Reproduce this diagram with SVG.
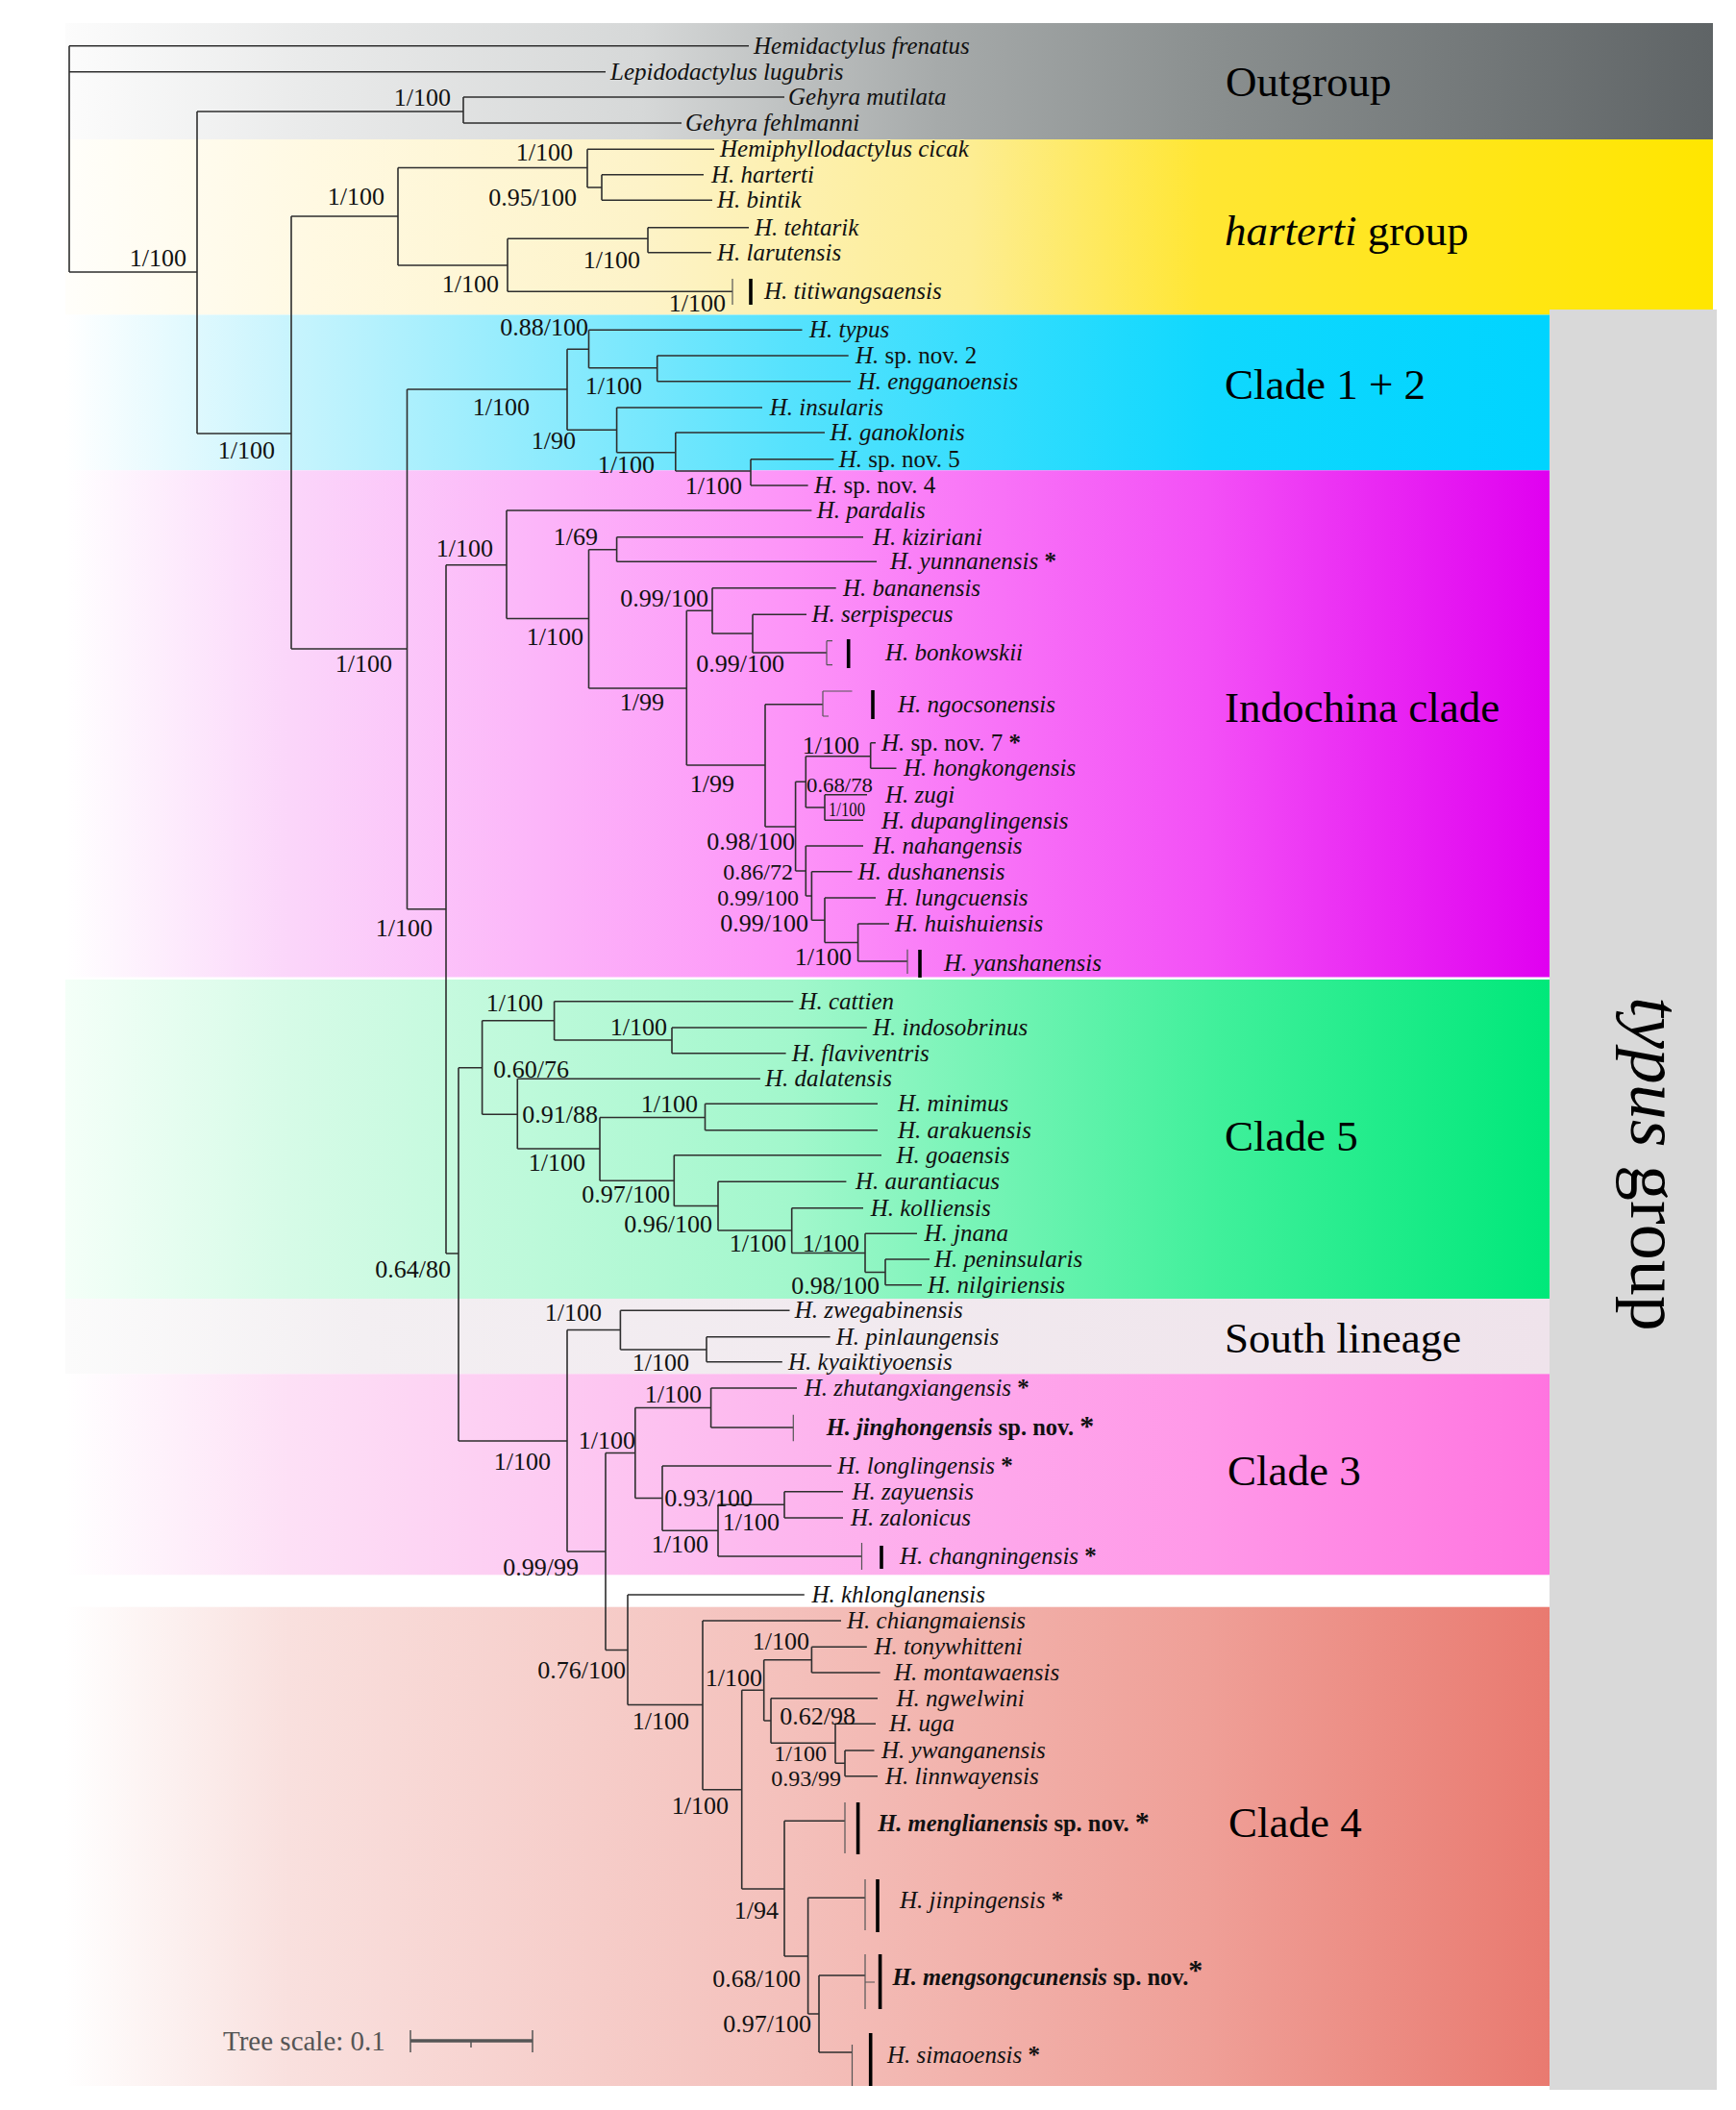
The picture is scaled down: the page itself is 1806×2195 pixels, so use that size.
<svg xmlns="http://www.w3.org/2000/svg" width="1806" height="2195" viewBox="0 0 1806 2195">
<style>
.br{fill:none;stroke:#2e2e2e;stroke-width:1.6}
.bk{fill:none;stroke:#555;stroke-width:1.2}
.bar{fill:none;stroke:#000;stroke-width:3.6}
.tip{font-family:"Liberation Serif","Times New Roman",serif;font-size:25px;font-style:italic;fill:#111}
.nov{font-family:"Liberation Serif","Times New Roman",serif;font-size:24.5px;font-style:italic;font-weight:bold;fill:#111}
.r{font-style:normal}
.sv{font-family:"Liberation Serif","Times New Roman",serif;font-size:26px;fill:#111;text-anchor:end}
.svt{font-size:24px}
.svs{font-family:"Liberation Serif","Times New Roman",serif;font-size:22px;fill:#111}
.cl{font-family:"Liberation Serif","Times New Roman",serif;font-size:45px;fill:#000}
</style>
<defs>
<linearGradient id="gOut" gradientUnits="userSpaceOnUse" x1="68" y1="0" x2="1782" y2="0">
<stop offset="0" stop-color="#fcfcfc"/><stop offset="0.15" stop-color="#e9eaea"/><stop offset="0.35" stop-color="#d6d8d8"/><stop offset="0.53" stop-color="#a6aaaa"/><stop offset="0.69" stop-color="#8b9090"/><stop offset="1" stop-color="#5f6466"/>
</linearGradient>
<linearGradient id="gHar" gradientUnits="userSpaceOnUse" x1="68" y1="0" x2="1782" y2="0">
<stop offset="0" stop-color="#fffefa"/><stop offset="0.15" stop-color="#fff9e2"/><stop offset="0.35" stop-color="#fdf3c8"/><stop offset="0.55" stop-color="#fded92"/><stop offset="0.69" stop-color="#ffe633"/><stop offset="1" stop-color="#ffe600"/>
</linearGradient>
<linearGradient id="gC12" gradientUnits="userSpaceOnUse" x1="68" y1="0" x2="1612" y2="0">
<stop offset="0" stop-color="#ffffff"/><stop offset="0.15" stop-color="#c8f4fd"/><stop offset="0.49" stop-color="#55e2fd"/><stop offset="0.77" stop-color="#10d8fe"/><stop offset="1" stop-color="#00d4ff"/>
</linearGradient>
<linearGradient id="gInd" gradientUnits="userSpaceOnUse" x1="68" y1="0" x2="1612" y2="0">
<stop offset="0" stop-color="#ffffff"/><stop offset="0.15" stop-color="#fbd6fa"/><stop offset="0.49" stop-color="#fd94f8"/><stop offset="0.77" stop-color="#f350f6"/><stop offset="1" stop-color="#e000f0"/>
</linearGradient>
<linearGradient id="gC5" gradientUnits="userSpaceOnUse" x1="68" y1="0" x2="1612" y2="0">
<stop offset="0" stop-color="#f4fff8"/><stop offset="0.15" stop-color="#d6fbe7"/><stop offset="0.49" stop-color="#a2f7cc"/><stop offset="0.77" stop-color="#42f09c"/><stop offset="1" stop-color="#00e87a"/>
</linearGradient>
<linearGradient id="gSo" gradientUnits="userSpaceOnUse" x1="68" y1="0" x2="1612" y2="0">
<stop offset="0" stop-color="#fbfbfb"/><stop offset="0.2" stop-color="#f3eff2"/><stop offset="1" stop-color="#efe3eb"/>
</linearGradient>
<linearGradient id="gC3" gradientUnits="userSpaceOnUse" x1="68" y1="0" x2="1612" y2="0">
<stop offset="0" stop-color="#ffffff"/><stop offset="0.15" stop-color="#fde0f6"/><stop offset="0.49" stop-color="#fdb6ee"/><stop offset="0.77" stop-color="#ff98e8"/><stop offset="1" stop-color="#ff74e0"/>
</linearGradient>
<linearGradient id="gC4" gradientUnits="userSpaceOnUse" x1="68" y1="0" x2="1612" y2="0">
<stop offset="0" stop-color="#ffffff"/><stop offset="0.15" stop-color="#f9e0de"/><stop offset="0.49" stop-color="#f4c0bb"/><stop offset="0.77" stop-color="#ef9f97"/><stop offset="1" stop-color="#e97a70"/>
</linearGradient>
</defs>
<rect width="1806" height="2195" fill="#ffffff"/>
<g id="bands">
<rect x="68" y="24" width="1714" height="121" fill="url(#gOut)"/>
<rect x="68" y="145" width="1714" height="182.5" fill="url(#gHar)"/>
<rect x="1612" y="322" width="174" height="1852" fill="#d9d9d9"/>
<rect x="68" y="327.5" width="1544" height="161.8" fill="url(#gC12)"/>
<rect x="68" y="489.3" width="1544" height="527.2" fill="url(#gInd)"/>
<rect x="68" y="1019" width="1544" height="332" fill="url(#gC5)"/>
<rect x="68" y="1351" width="1544" height="78.3" fill="url(#gSo)"/>
<rect x="68" y="1429.3" width="1544" height="209" fill="url(#gC3)"/>
<rect x="68" y="1671.7" width="1544" height="498.3" fill="url(#gC4)"/>
</g>
<g id="clade-labels">
<g id="lbl-outgroup"><text class="cl" x="1275" y="100">Outgroup</text></g>
<g id="lbl-harterti"><text class="cl" x="1274" y="255"><tspan font-style="italic">harterti</tspan> group</text></g>
<g id="lbl-clade12"><text class="cl" x="1274" y="415">Clade 1 + 2</text></g>
<g id="lbl-indochina"><text class="cl" x="1274" y="751">Indochina clade</text></g>
<g id="lbl-clade5"><text class="cl" x="1274" y="1197">Clade 5</text></g>
<g id="lbl-south"><text class="cl" x="1274" y="1407">South lineage</text></g>
<g id="lbl-clade3"><text class="cl" x="1277" y="1545">Clade 3</text></g>
<g id="lbl-clade4"><text class="cl" x="1278" y="1911">Clade 4</text></g>
<g id="lbl-typus"><text class="cl" style="font-size:74px" text-anchor="middle" transform="translate(1697 1211) rotate(90)"><tspan font-style="italic">typus</tspan> group</text></g>
</g>
<g id="connectors">
<path class="br" d="M72 47.7V283M72 47.7H779M72 74.7H630M72 283H205M205 116V451M205 116H482M482 101V128M482 101H816M482 128H709M205 451H303M303 225V675M303 225H414M414 174.5V276M414 174.5H611M611 155.3V195M611 155.3H743M611 195H626M626 181.7V208.3M626 181.7H732M626 208.3H741M414 276H528M528 248.3V303.3M528 248.3H674M674 236.7V262.7M674 236.7H779M674 262.7H740M528 303.3H762
M303 675H423.5M423.5 405V945.7M423.5 405H590M590 363.3V447.3M590 363.3H612.5M612.5 343.3V382.7M612.5 343.3H834.5M612.5 382.7H683.7M683.7 370V396.7M683.7 370H882.7M683.7 396.7H885M590 447.3H641.6M641.6 424V470.7M641.6 424H793M641.6 470.7H702.8M702.8 450V490M702.8 450H858M702.8 490H781M781 477.7V505M781 477.7H867.4M781 505H840.6
M423.5 945.7H464M464 587.7V1304M464 587.7H527M527 531V643.5M527 531H844.4M527 643.5H612.5M612.5 571.7V716M612.5 571.7H641.6M641.6 558.7V584.3M641.6 558.7H898M641.6 584.3H912M612.5 716H714.3M714.3 635.3V796M714.3 635.3H741M741 611.7V659M741 611.7H869.7M741 659H783M783 639.3V679M783 639.3H839M783 679H860M714.3 796H796M796 732.7V860M796 732.7H856M796 860H827.6M827.6 813.3V906M827.6 813.3H838.3M838.3 786.7V840M838.3 786.7H905.7M905.7 772.7V799.3M905.7 772.7H911M905.7 799.3H932.5M838.3 840H858M858 826.7V853.3M858 826.7H902M858 853.3H898M827.6 906H838.3M838.3 880V932M838.3 880H898M838.3 932H844.4M844.4 906.7V957.3M844.4 906.7H886.5M844.4 957.3H858M858 934V980.5M858 934H911M858 980.5H892.6M892.6 961V1000M892.6 961H925M892.6 1000H944
M464 1304H477M477 1110.7V1499M477 1110.7H501.6M501.6 1061.7V1159.3M501.6 1061.7H576.6M576.6 1041.7V1082M576.6 1041.7H825.3M576.6 1082H699M699 1069V1095.7M699 1069H901.8M699 1095.7H817.6M501.6 1159.3H538.3M538.3 1122.3V1195M538.3 1122.3H790.9M538.3 1195H624M624 1162.5V1228.3M624 1162.5H733.5M733.5 1148.3V1175.7M733.5 1148.3H913M733.5 1175.7H913M624 1228.3H701.3M701.3 1201.7V1254.5M701.3 1201.7H917M701.3 1254.5H747M747 1229.3V1280M747 1229.3H880.4M747 1280H823.7M823.7 1256.7V1303.5M823.7 1256.7H898M823.7 1303.5H900M900 1283.3V1323.5M900 1283.3H954M900 1323.5H921M921 1310V1336.7M921 1310H967M921 1336.7H959
M477 1499H590M590 1383.5V1614M590 1383.5H645.4M645.4 1363.3V1404M645.4 1363.3H821.5M645.4 1404H735M735 1390.7V1416.7M735 1390.7H863.6M735 1416.7H813.8M590 1614H630M630 1511.5V1716.5M630 1511.5H660.8M660.8 1464.5V1558.5M660.8 1464.5H739.6M739.6 1444V1485M739.6 1444H829M739.6 1485H825.3M660.8 1558.5H689M689 1525V1592.2M689 1525H865M689 1592.2H747M747 1565.3V1619M747 1565.3H816M816 1551.7V1579M816 1551.7H877M816 1579H877M747 1619H896.5
M630 1716.5H653M653 1659V1773.5M653 1659H836.8M653 1773.5H731M731 1686V1861.7M731 1686H875M731 1861.7H771.7M771.7 1758.3V1965M771.7 1758.3H794.7M794.7 1726.7V1790M794.7 1726.7H844.4M844.4 1713.3V1740M844.4 1713.3H901.8M844.4 1740H915.6M794.7 1790H802M802 1766.7V1813.3M802 1766.7H913M802 1813.3H869M869 1793.3V1834.3M869 1793.3H911M869 1834.3H879M879 1821V1847.7M879 1821H909.5M879 1847.7H913M771.7 1965H816M816 1894.3V2035M816 1894.3H879M816 2035H840.6M840.6 1974.3V2095M840.6 1974.3H900M840.6 2095H852M852 2055V2135M852 2055H900M852 2135H886.5"/>
</g>
<g id="collapsed">
<path class="bk" d="M762 290V317M860 666.7V691.7M860 666.7H866M860 691.7H866M856 719V745M856 719H886.5M856 745H862M944 987.7V1013M825.3 1471.7V1499.3M896.5 1605V1633M879 1875V1928M900 1955V2008M900 2033V2090M900 2062H910M886.5 2127V2170"/>
<path class="bar" d="M781 290V317M882.7 665V695M908 718V748M957 988V1017M917 1608V1632M892.6 1875V1929M913 1955V2010M915.6 2033V2090M905.7 2115V2170"/>
</g>
<g id="support-values">
<text class="sv" x="469" y="110">1/100</text>
<text class="sv" x="194" y="277">1/100</text>
<text class="sv" x="596" y="167">1/100</text>
<text class="sv" x="600" y="214">0.95/100</text>
<text class="sv" x="400" y="213">1/100</text>
<text class="sv" x="666" y="279">1/100</text>
<text class="sv" x="519" y="304">1/100</text>
<text class="sv" x="755" y="324">1/100</text>
<text class="sv" x="612" y="349">0.88/100</text>
<text class="sv" x="668" y="410">1/100</text>
<text class="sv" x="551" y="432">1/100</text>
<text class="sv" x="599" y="467">1/90</text>
<text class="sv" x="681" y="492">1/100</text>
<text class="sv" x="772" y="514">1/100</text>
<text class="sv" x="286" y="477">1/100</text>
<text class="sv" x="513" y="579">1/100</text>
<text class="sv" x="622" y="567">1/69</text>
<text class="sv" x="737" y="631">0.99/100</text>
<text class="sv" x="607" y="671">1/100</text>
<text class="sv" x="816" y="699">0.99/100</text>
<text class="sv" x="408" y="699">1/100</text>
<text class="sv" x="691" y="739">1/99</text>
<text class="sv" x="894" y="784">1/100</text>
<text class="sv" x="764" y="824">1/99</text>
<text class="svs" x="839" y="824" textLength="69" lengthAdjust="spacingAndGlyphs">0.68/78</text>
<text class="svs" x="862" y="849" textLength="38" lengthAdjust="spacingAndGlyphs">1/100</text>
<text class="sv" x="827" y="884">0.98/100</text>
<text class="sv svt" x="825" y="915">0.86/72</text>
<text class="sv svt" x="831" y="942">0.99/100</text>
<text class="sv" x="841" y="969">0.99/100</text>
<text class="sv" x="886" y="1004">1/100</text>
<text class="sv" x="450" y="974">1/100</text>
<text class="sv" x="565" y="1052">1/100</text>
<text class="sv" x="694" y="1077">1/100</text>
<text class="sv" x="592" y="1121">0.60/76</text>
<text class="sv" x="622" y="1168">0.91/88</text>
<text class="sv" x="726" y="1157">1/100</text>
<text class="sv" x="609" y="1218">1/100</text>
<text class="sv" x="697" y="1251">0.97/100</text>
<text class="sv" x="741" y="1282">0.96/100</text>
<text class="sv" x="818" y="1302">1/100</text>
<text class="sv" x="894" y="1302">1/100</text>
<text class="sv" x="915" y="1346">0.98/100</text>
<text class="sv" x="469" y="1329">0.64/80</text>
<text class="sv" x="626" y="1374">1/100</text>
<text class="sv" x="717" y="1426">1/100</text>
<text class="sv" x="730" y="1459">1/100</text>
<text class="sv" x="661" y="1507">1/100</text>
<text class="sv" x="573" y="1529">1/100</text>
<text class="sv" x="783" y="1567">0.93/100</text>
<text class="sv" x="811" y="1592">1/100</text>
<text class="sv" x="737" y="1615">1/100</text>
<text class="sv" x="602" y="1639">0.99/99</text>
<text class="sv" x="842" y="1716">1/100</text>
<text class="sv" x="651" y="1746">0.76/100</text>
<text class="sv" x="793" y="1754">1/100</text>
<text class="sv" x="890" y="1794">0.62/98</text>
<text class="sv" x="717" y="1799">1/100</text>
<text class="sv svt" x="860" y="1832">1/100</text>
<text class="sv svt" x="875" y="1858">0.93/99</text>
<text class="sv" x="758" y="1887">1/100</text>
<text class="sv" x="810" y="1996">1/94</text>
<text class="sv" x="833" y="2067">0.68/100</text>
<text class="sv" x="844" y="2114">0.97/100</text>
</g>
<g id="tips">
<g id="t-hfrenatus"><text class="tip" x="784" y="56">Hemidactylus frenatus</text></g>
<g id="t-llugubris"><text class="tip" x="635" y="83">Lepidodactylus lugubris</text></g>
<g id="t-gmutilata"><text class="tip" x="820" y="109">Gehyra mutilata</text></g>
<g id="t-gfehlmanni"><text class="tip" x="713" y="136">Gehyra fehlmanni</text></g>
<g id="t-hcicak"><text class="tip" x="749" y="163">Hemiphyllodactylus cicak</text></g>
<g id="t-harterti"><text class="tip" x="740" y="190">H. harterti</text></g>
<g id="t-bintik"><text class="tip" x="746" y="216">H. bintik</text></g>
<g id="t-tehtarik"><text class="tip" x="785" y="245">H. tehtarik</text></g>
<g id="t-larutensis"><text class="tip" x="746" y="271">H. larutensis</text></g>
<g id="t-titiwangsaensis"><text class="tip" x="795" y="311">H. titiwangsaensis</text></g>
<g id="t-typus"><text class="tip" x="842" y="351">H. typus</text></g>
<g id="t-spnov2"><text class="tip" x="890" y="378">H.<tspan class="r"> sp. nov. 2</tspan></text></g>
<g id="t-engganoensis"><text class="tip" x="892.6" y="405">H. engganoensis</text></g>
<g id="t-insularis"><text class="tip" x="800.8" y="432">H. insularis</text></g>
<g id="t-ganoklonis"><text class="tip" x="863.5" y="458">H. ganoklonis</text></g>
<g id="t-spnov5"><text class="tip" x="872.7" y="486">H.<tspan class="r"> sp. nov. 5</tspan></text></g>
<g id="t-spnov4"><text class="tip" x="847" y="513">H.<tspan class="r"> sp. nov. 4</tspan></text></g>
<g id="t-pardalis"><text class="tip" x="849.8" y="539">H. pardalis</text></g>
<g id="t-kiziriani"><text class="tip" x="908" y="567">H. kiziriani</text></g>
<g id="t-yunnanensis"><text class="tip" x="926" y="592">H. yunnanensis <tspan class="r" font-weight="bold">*</tspan></text></g>
<g id="t-bananensis"><text class="tip" x="877" y="620">H. bananensis</text></g>
<g id="t-serpispecus"><text class="tip" x="844.4" y="647">H. serpispecus</text></g>
<g id="t-bonkowskii"><text class="tip" x="921" y="687">H. bonkowskii</text></g>
<g id="t-ngocsonensis"><text class="tip" x="934" y="741">H. ngocsonensis</text></g>
<g id="t-spnov7"><text class="tip" x="917" y="781">H.<tspan class="r"> sp. nov. 7 </tspan><tspan class="r" font-weight="bold">*</tspan></text></g>
<g id="t-hongkongensis"><text class="tip" x="940" y="807">H. hongkongensis</text></g>
<g id="t-zugi"><text class="tip" x="921" y="835">H. zugi</text></g>
<g id="t-dupanglingensis"><text class="tip" x="917" y="862">H. dupanglingensis</text></g>
<g id="t-nahangensis"><text class="tip" x="908" y="888">H. nahangensis</text></g>
<g id="t-dushanensis"><text class="tip" x="892.6" y="915">H. dushanensis</text></g>
<g id="t-lungcuensis"><text class="tip" x="921" y="942">H. lungcuensis</text></g>
<g id="t-huishuiensis"><text class="tip" x="931" y="969">H. huishuiensis</text></g>
<g id="t-yanshanensis"><text class="tip" x="982" y="1010">H. yanshanensis</text></g>
<g id="t-cattien"><text class="tip" x="831.4" y="1050">H. cattien</text></g>
<g id="t-indosobrinus"><text class="tip" x="908" y="1077">H. indosobrinus</text></g>
<g id="t-flaviventris"><text class="tip" x="823.8" y="1104">H. flaviventris</text></g>
<g id="t-dalatensis"><text class="tip" x="796" y="1130">H. dalatensis</text></g>
<g id="t-minimus"><text class="tip" x="934" y="1156">H. minimus</text></g>
<g id="t-arakuensis"><text class="tip" x="934" y="1184">H. arakuensis</text></g>
<g id="t-goaensis"><text class="tip" x="932.4" y="1210">H. goaensis</text></g>
<g id="t-aurantiacus"><text class="tip" x="890" y="1237">H. aurantiacus</text></g>
<g id="t-kolliensis"><text class="tip" x="905.7" y="1265">H. kolliensis</text></g>
<g id="t-jnana"><text class="tip" x="961.5" y="1291">H. jnana</text></g>
<g id="t-peninsularis"><text class="tip" x="972" y="1318">H. peninsularis</text></g>
<g id="t-nilgiriensis"><text class="tip" x="965" y="1345">H. nilgiriensis</text></g>
<g id="t-zwegabinensis"><text class="tip" x="826.8" y="1371">H. zwegabinensis</text></g>
<g id="t-pinlaungensis"><text class="tip" x="869.7" y="1399">H. pinlaungensis</text></g>
<g id="t-kyaiktiyoensis"><text class="tip" x="820" y="1425">H. kyaiktiyoensis</text></g>
<g id="t-zhutangxiangensis"><text class="tip" x="836.8" y="1452">H. zhutangxiangensis <tspan class="r" font-weight="bold">*</tspan></text></g>
<g id="t-jinghongensis"><text class="nov" x="859.7" y="1493">H. jinghongensis<tspan class="r"> sp. nov. </tspan><tspan class="r" font-size="30">*</tspan></text></g>
<g id="t-longlingensis"><text class="tip" x="871.2" y="1533">H. longlingensis <tspan class="r" font-weight="bold">*</tspan></text></g>
<g id="t-zayuensis"><text class="tip" x="886.5" y="1560">H. zayuensis</text></g>
<g id="t-zalonicus"><text class="tip" x="885" y="1587">H. zalonicus</text></g>
<g id="t-changningensis"><text class="tip" x="936" y="1627">H. changningensis <tspan class="r" font-weight="bold">*</tspan></text></g>
<g id="t-khlonglanensis"><text class="tip" x="844.4" y="1667">H. khlonglanensis</text></g>
<g id="t-chiangmaiensis"><text class="tip" x="881" y="1694">H. chiangmaiensis</text></g>
<g id="t-tonywhitteni"><text class="tip" x="909.5" y="1721">H. tonywhitteni</text></g>
<g id="t-montawaensis"><text class="tip" x="930" y="1748">H. montawaensis</text></g>
<g id="t-ngwelwini"><text class="tip" x="932.4" y="1775">H. ngwelwini</text></g>
<g id="t-uga"><text class="tip" x="925" y="1801">H. uga</text></g>
<g id="t-ywanganensis"><text class="tip" x="917" y="1829">H. ywanganensis</text></g>
<g id="t-linnwayensis"><text class="tip" x="921" y="1856">H. linnwayensis</text></g>
<g id="t-menglianensis"><text class="nov" x="913.3" y="1905">H. menglianensis<tspan class="r"> sp. nov. </tspan><tspan class="r" font-size="30">*</tspan></text></g>
<g id="t-jinpingensis"><text class="tip" x="936" y="1985">H. jinpingensis <tspan class="r" font-weight="bold">*</tspan></text></g>
<g id="t-mengsongcunensis"><text class="nov" x="928.6" y="2065">H. mengsongcunensis<tspan class="r"> sp. nov.</tspan><tspan class="r" font-size="30" dy="-6">*</tspan></text></g>
<g id="t-simaoensis"><text class="tip" x="923" y="2146">H. simaoensis <tspan class="r" font-weight="bold">*</tspan></text></g>
</g>
<g id="tree-scale">
<text x="232" y="2133" font-family="Liberation Serif, Times New Roman, serif" font-size="29" fill="#555">Tree scale: 0.1</text>
<path d="M427 2123H554" stroke="#555" stroke-width="3.5" fill="none"/>
<path d="M427 2112V2135M554 2112V2135M490 2123V2130" stroke="#555" stroke-width="1.5" fill="none"/>
</g>
</svg>
